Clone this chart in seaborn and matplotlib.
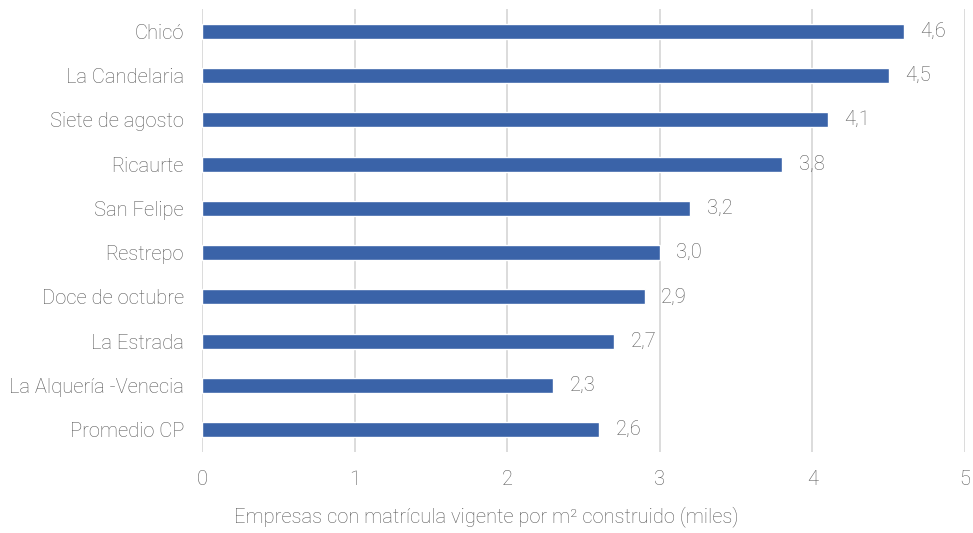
import pandas as pd
import seaborn as sns
import matplotlib.pyplot as plt

# valores por barrio (miles de empresas por m2 construido)
barrios = ['Chicó', 'La Candelaria', 'Siete de agosto', 'Ricaurte', 'San Felipe',
           'Restrepo', 'Doce de octubre', 'La Estrada', 'La Alquería -Venecia', 'Promedio CP']
valores = [4.6, 4.5, 4.1, 3.8, 3.2, 3.0, 2.9, 2.7, 2.3, 2.6]

df = pd.DataFrame({'barrio': barrios, 'valor': valores})

sns.set_style('white')
plt.rcParams['font.family'] = ['Roboto', 'DejaVu Sans']
plt.rcParams['font.weight'] = 'light'
gris = '#595959'
fs = 14.5

fig = plt.figure(figsize=(9.73, 5.33), dpi=100)
ax = fig.add_axes([0.2076, 0.152, 0.7842, 0.831])

sns.barplot(data=df, x='valor', y='barrio', orient='h', color='#3A63A8',
            saturation=1, width=0.34, ax=ax)

ax.set_xlim(0, 5)
ax.set_xticks([0, 1, 2, 3, 4, 5])
ax.grid(axis='x', color='#D9D9D9', linewidth=1.3)
ax.set_axisbelow(True)
for s in ax.spines.values():
    s.set_visible(False)
ax.tick_params(axis='both', length=0, colors=gris, labelsize=fs)
ax.tick_params(axis='x', pad=13)
ax.tick_params(axis='y', pad=13)

ax.bar_label(ax.containers[0], labels=[f'{v:.1f}'.replace('.', ',') for v in valores],
             padding=12, color=gris, fontsize=fs)

ax.set_ylabel('')
ax.set_xlabel('')
fig.text(0.5, 0.012, 'Empresas con matrícula vigente por m² construido (miles)',
         color=gris, fontsize=fs, ha='center', va='bottom')

fig.savefig('out.png', dpi=100)
